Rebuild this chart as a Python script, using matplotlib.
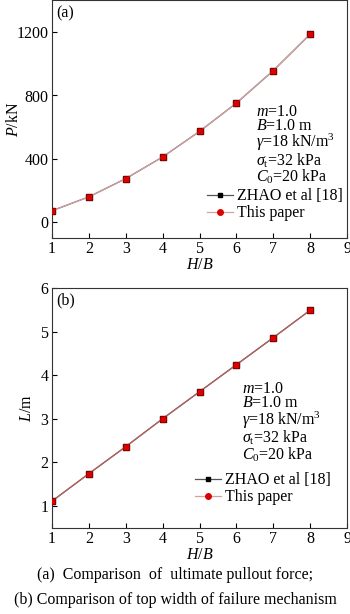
import matplotlib
matplotlib.use("Agg")
import matplotlib.pyplot as plt
from matplotlib.lines import Line2D

plt.rcParams['font.family'] = ['Liberation Serif', 'DejaVu Serif']
plt.rcParams['mathtext.fontset'] = 'custom'
plt.rcParams['mathtext.rm'] = 'Liberation Serif'
plt.rcParams['mathtext.it'] = 'Liberation Serif:italic'
plt.rcParams['mathtext.bf'] = 'Liberation Serif:bold'

# Data
hb = [1, 2, 3, 4, 5, 6, 7, 8]
P_zhao = [72, 160, 275, 412, 573, 752, 957, 1187]
P_this = [72, 160, 275, 412, 573, 752, 957, 1187]
L_zhao = [1.11, 1.74, 2.36, 3.00, 3.62, 4.24, 4.86, 5.49]
L_this = [1.11, 1.74, 2.36, 3.00, 3.62, 4.24, 4.86, 5.49]
x_ticks = [1, 2, 3, 4, 5, 6, 7, 8, 9]
P_ticks = [0, 400, 800, 1200]
L_ticks = [1, 2, 3, 4, 5, 6]
params = [r'$m$=1.0', r'$B$=1.0 m', r'$\gamma$=18 kN/m$^3$',
          r'$\sigma_{\rm t}$=32 kPa', r'$C_0$=20 kPa']
labels = ['ZHAO et al [18]', 'This paper']

FS = 11.5
W, H = 350, 614
fig = plt.figure(figsize=(W / 100, H / 100), dpi=100)

def pos(l, t, r, b):
    return [l / W, 1 - b / H, (r - l) / W, (b - t) / H]

A1 = (52, 0.5, 347, 238)
A2 = (52, 288, 347, 527.7)
ax1 = fig.add_axes(pos(*A1))
ax2 = fig.add_axes(pos(*A2))

def style(ax):
    ax.tick_params(direction='in', length=3.5, width=0.8, labelsize=FS,
                   top=False, right=False, pad=2.5)
    for s in ax.spines.values():
        s.set_linewidth(0.8)
        s.set_color('#333333')
    ax.set_xlim(1, 9)
    ax.set_xticks(x_ticks)
    ax.set_xlabel(r'$H$/$B$', fontsize=FS, labelpad=0)

def draw(ax, yz, yt, lc):
    ax.plot(hb, yz, color='#555555', lw=0.9, marker='s', ms=4,
            mfc='black', mec='black', zorder=2)
    ax.plot(hb, yt, color=lc, lw=0.9, marker='s', ms=4.2,
            mfc='#dd0000', mec='#990000', mew=0.5, zorder=3)

def fx(px, A):
    return (px - A[0]) / (A[2] - A[0])

def fy(py, A):
    return (A[3] - py) / (A[3] - A[1])

def params_text(ax, A, x, yc):
    ax.text(fx(x, A), fy(yc, A), '\n'.join(params), transform=ax.transAxes,
            fontsize=FS, ha='left', va='center', linespacing=0.87)

def leg(ax, A, x, y, lc):
    h = [Line2D([], [], color='#555555', lw=0.9, marker='s', ms=3.5,
                mfc='black', mec='black'),
         Line2D([], [], color=lc, lw=0.9, marker='o', ms=4,
                mfc='#dd0000', mec='#dd0000')]
    ax.legend(h, labels, loc='upper left', bbox_to_anchor=(fx(x, A), fy(y, A)),
              frameon=False, fontsize=FS, borderpad=0, borderaxespad=0,
              handlelength=1.6, handletextpad=0.25, labelspacing=0.05)

# (a)
draw(ax1, P_zhao, P_this, '#d4a0a0')
style(ax1)
ax1.set_ylim(-100, 1400)
ax1.set_yticks(P_ticks)
ax1.set_ylabel(r'$P$/kN', fontsize=FS, labelpad=-4)
ax1.text(fx(56, A1), fy(13, A1), '(a)', transform=ax1.transAxes, fontsize=FS,
         ha='left', va='center')
params_text(ax1, A1, 256, 145)
leg(ax1, A1, 207, 188.5, '#d4a0a0')

# (b)
draw(ax2, L_zhao, L_this, '#b86060')
style(ax2)
ax2.set_ylim(0.5, 6)
ax2.set_yticks(L_ticks)
ax2.set_ylabel(r'$L$/m', fontsize=FS, labelpad=4)
ax2.text(fx(56, A2), fy(300, A2), '(b)', transform=ax2.transAxes, fontsize=FS,
         ha='left', va='center')
params_text(ax2, A2, 242, 422.5)
leg(ax2, A2, 195, 472.5, '#d4a0a0')

fig.text(0.5, 1 - 575 / H, '(a)  Comparison  of  ultimate pullout force;',
         ha='center', va='center', fontsize=FS)
fig.text(0.5, 1 - 600 / H, '(b) Comparison of top width of failure mechanism',
         ha='center', va='center', fontsize=FS)

fig.savefig('out.png', dpi=100)
